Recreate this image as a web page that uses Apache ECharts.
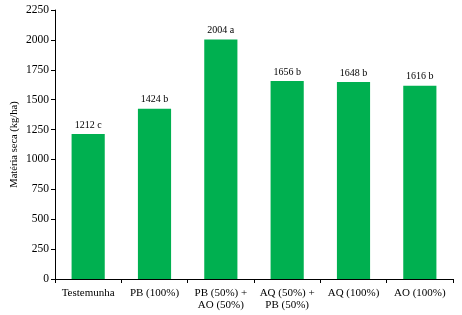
<!DOCTYPE html>
<html>
<head>
<meta charset="utf-8">
<script src="https://cdn.jsdelivr.net/npm/echarts@6/dist/echarts.min.js"></script>
<style>
  html, body { margin: 0; padding: 0; background: #fff; }
  #main { width: 462px; height: 315px; }
</style>
</head>
<body>
<div id="main"></div>
<script>
var categories = ['Testemunha', 'PB (100%)', 'PB (50%) +\nAO (50%)', 'AQ (50%) +\nPB (50%)', 'AQ (100%)', 'AO (100%)'];
var values = [1212, 1424, 2004, 1656, 1648, 1616];
var letters = ['c', 'b', 'a', 'b', 'b', 'b'];
var yTicks = [0, 250, 500, 750, 1000, 1250, 1500, 1750, 2000, 2250];

var font = '"Liberation Serif", "Times New Roman", serif';

var chart = echarts.init(document.getElementById('main'));
chart.setOption({
    animation: false,
    textStyle: { fontFamily: font },
    grid: { left: 55, right: 9, top: 10, bottom: 36, containLabel: false, outerBoundsMode: 'none' },
    xAxis: {
        type: 'category',
        data: categories,
        axisLine: { lineStyle: { color: '#000', width: 1 } },
        axisTick: { show: true, length: 4, inside: false, alignWithLabel: false, lineStyle: { color: '#000' } },
        axisLabel: { color: '#000', fontSize: 11, fontFamily: font, margin: 8, lineHeight: 12, interval: 0 }
    },
    yAxis: {
        type: 'value',
        min: yTicks[0],
        max: yTicks[yTicks.length - 1],
        interval: 250,
        name: 'Matéria seca (kg/ha)',
        nameLocation: 'middle',
        nameGap: 35,
        nameMoveOverlap: false,
        nameTextStyle: { color: '#000', fontSize: 10.5, fontFamily: font },
        axisLine: { show: true, lineStyle: { color: '#000', width: 1 } },
        axisTick: { show: true, length: 4, lineStyle: { color: '#000' } },
        axisLabel: { color: '#000', fontSize: 11.5, fontFamily: font, margin: 6, formatter: function (v) { return String(v); } },
        splitLine: { show: false }
    },
    series: [{
        type: 'bar',
        data: values,
        barWidth: '50%',
        itemStyle: { color: '#00B050' },
        label: {
            show: true,
            position: 'top',
            distance: 4,
            color: '#000',
            fontSize: 10,
            fontFamily: font,
            formatter: function (p) { return p.value + ' ' + letters[p.dataIndex]; }
        }
    }]
});
</script>
</body>
</html>
